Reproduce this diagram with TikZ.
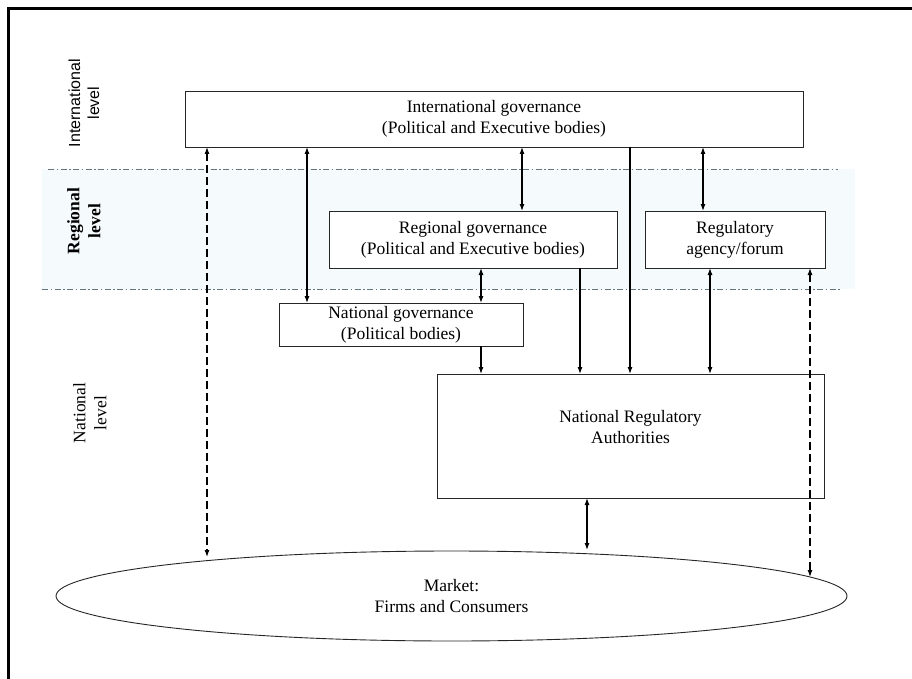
\documentclass[tikz,border=0pt]{standalone}
\usepackage{fontspec}
\setmainfont{Liberation Serif}
\newfontfamily\lblsans{Liberation Sans}
\usetikzlibrary{arrows.meta,shapes.geometric}
\newcommand{\dgfont}{\fontsize{17.5}{21}\selectfont}
\begin{document}
\begin{tikzpicture}[x=1pt,y=-1pt,
  >={Latex[length=7pt,width=5pt]},
  box/.style={draw=black!85,line width=0.9pt,inner sep=0pt,outer sep=0pt,
              fill=white,align=center,font=\dgfont},
  conn/.style={line width=1.1pt,black},
  dconn/.style={conn,dash pattern=on 8pt off 4pt},
  levelline/.style={draw=black!60!cyan!60!gray,line width=0.8pt,
                    dash pattern=on 6pt off 2.5pt on 1.5pt off 2.5pt},
  sidelabel/.style={rotate=90,align=center,font=\dgfont}]
\useasboundingbox (0,0) rectangle (912,679);

% regional band
\fill[fill={rgb,255:red,245;green,251;blue,252}] (42,169) rectangle (855,289);
\draw[levelline] (48,169) -- (838,169);
\draw[levelline] (42,289) -- (840,289);

% page frame (left and top edges)
\draw[line width=2.2pt] (8.5,679) -- (8.5,8.5) -- (912,8.5);

% level labels
\node[sidelabel,font=\lblsans\fontsize{16}{19}\selectfont] (lintl) at (84,103) {International\\level};
\node[sidelabel,font=\dgfont\bfseries] (lreg) at (84,221) {Regional\\level};
\node[sidelabel] (lnat) at (90,413) {National\\level};

% bodies
\node[box,minimum width=618pt,minimum height=56pt] (intl) at (494,119)
  {International governance\\(Political and Executive bodies)};
\node[box,minimum width=288pt,minimum height=57pt] (reg) at (473,239.5)
  {Regional governance\\(Political and Executive bodies)};
\node[box,minimum width=180pt,minimum height=57pt] (agency) at (735,239.5)
  {Regulatory\\agency/forum};
\node[box,minimum width=244pt,minimum height=43pt] (natgov) at (401,324.5)
  {National governance\\(Political bodies)};
\node[box,minimum width=387pt,minimum height=124pt] (nra) at (630.5,436) {};
\node[align=center,font=\dgfont,inner sep=0pt] (nratext) at (630.5,427)
  {National Regulatory\\Authorities};
\node[draw=black!85,line width=0.9pt,ellipse,inner sep=0pt,outer sep=0pt,
      minimum width=791pt,minimum height=90pt,align=center,font=\dgfont] (market) at (451.5,596)
  {Market:\\Firms and Consumers};

% connector columns
\coordinate (xa) at (207,0);
\coordinate (xb) at (307,0);
\coordinate (xc) at (522,0);
\coordinate (xd) at (630,0);
\coordinate (xe) at (703,0);
\coordinate (xf) at (481,0);
\coordinate (xg) at (580,0);
\coordinate (xh) at (710,0);
\coordinate (xi) at (810,0);
\coordinate (xj) at (587,0);
% points on the market rim
\coordinate (ma) at (207,557);
\coordinate (mb) at (810,577);
\coordinate (mc) at (587,550);

% connectors
\draw[dconn,<->] (intl.south -| xa) -- (ma);
\draw[conn,<->] (intl.south -| xb) -- (natgov.north -| xb);
\draw[conn,<->] (intl.south -| xc) -- (reg.north -| xc);
\draw[conn,->] (intl.south -| xd) -- (nra.north -| xd);
\draw[conn,<->] (intl.south -| xe) -- (agency.north -| xe);
\draw[conn,<->] (reg.south -| xf) -- (natgov.north -| xf);
\draw[conn,->] (natgov.south -| xf) -- (nra.north -| xf);
\draw[conn,->] (reg.south -| xg) -- (nra.north -| xg);
\draw[conn,<->] (agency.south -| xh) -- (nra.north -| xh);
\draw[dconn,<->] (agency.south -| xi) -- (mb);
\draw[conn,<->] (nra.south -| xj) -- (mc);
\end{tikzpicture}
\end{document}
